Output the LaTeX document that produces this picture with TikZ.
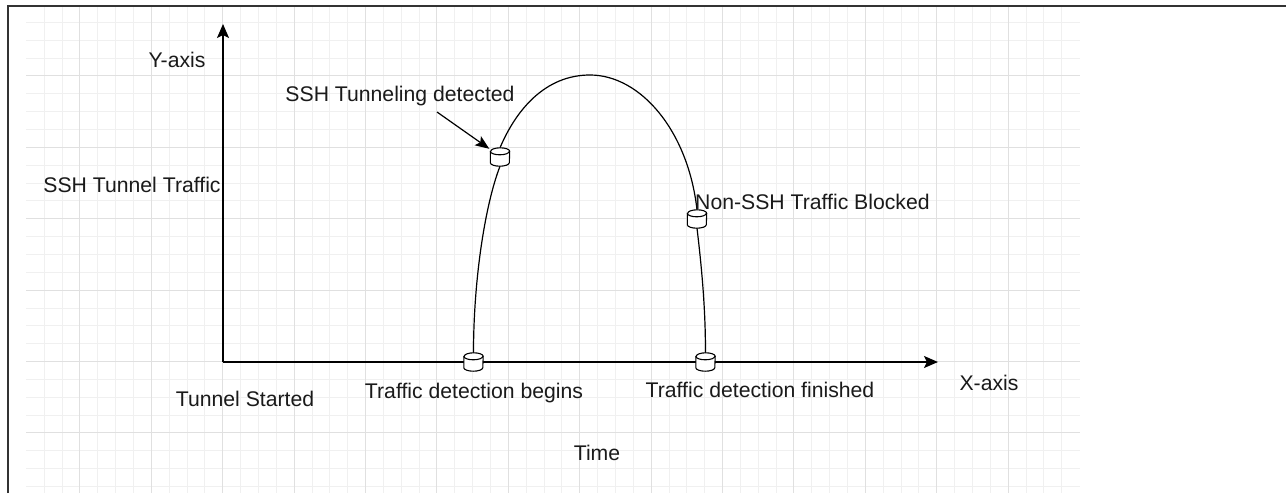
\documentclass[tikz,border=0pt]{standalone}
\usepackage{fontspec}
\setmainfont{Liberation Sans}
\usetikzlibrary{arrows.meta,calc}
\definecolor{gminor}{HTML}{F0F0F0}
\definecolor{gmajor}{HTML}{E0E0E0}
\definecolor{frame}{HTML}{333333}
\definecolor{txt}{HTML}{1A1A1A}
\tikzset{
  cyl/.style={rectangle, draw=none, minimum width=19, minimum height=18, inner sep=0pt},
  cylline/.style={line width=1.1pt, draw=black},
  lbl/.style={font=\fontsize{21.2}{25}\selectfont, text=txt, inner sep=0pt},
  axis/.style={line width=1.6pt, -{Stealth[length=14pt,width=12pt,inset=3pt]}},
  curve/.style={line width=1.2pt},
  pointer/.style={line width=1.2pt, -{Stealth[length=14pt,width=11pt,inset=3pt]}}
}
\begin{document}
\begin{tikzpicture}[x=1pt,y=-1pt]
\useasboundingbox (0,0) rectangle (1286,493);
\fill[white] (0,0) rectangle (1286,493);
% grid
\foreach \i in {1,...,58} \draw[gminor, line width=1pt] ({26.4+\i*17.85},6) -- ({26.4+\i*17.85},493);
\foreach \j in {0,...,26} \draw[gminor, line width=1pt] (26.4,{22.4+\j*17.85}) -- (1079.5,{22.4+\j*17.85});
\foreach \i in {3,7,...,55} \draw[gmajor, line width=1pt] ({26.4+\i*17.85},6) -- ({26.4+\i*17.85},493);
\foreach \j in {3,7,...,23} \draw[gmajor, line width=1pt] (26.4,{22.4+\j*17.85}) -- (1079.5,{22.4+\j*17.85});
% frame
\draw[frame, line width=2pt] (8,493) -- (8,6) -- (1286,6);
% axes
\coordinate (O) at (223,362);
\coordinate (ytip) at (223,24);
\coordinate (xtip) at (938,362);
\draw[axis] (O) -- (ytip);
\draw[axis] (O) -- (xtip);
% cylinders
\node[cyl] (c1) at (473.5,362) {};
\node[cyl] (c2) at (500,157) {};
\node[cyl] (c3) at (697,219) {};
\node[cyl] (c4) at (705.5,362) {};
\draw[line width=2.2pt] (O) -- (c1.west);
% curve
\coordinate (peak) at (590,75);
\draw[curve] (c1.north) .. controls (473.5,280) and (485,205) .. (c2.south);
\draw[curve] (c2.north) .. controls (516,110) and (545,75) .. (peak)
  .. controls (640,75) and (688,130) .. (c3.north);
\draw[curve] (c3.south) .. controls (702,270) and (705.5,310) .. (c4.north);
\foreach \c in {c1,c2,c3,c4}{
  \draw[cylline, fill=white] ($(\c.north west)+(0,3.5)$) -- ($(\c.south west)-(0,3.5)$)
    arc[start angle=180, end angle=0, x radius=9.5, y radius=3.5]
    -- ($(\c.north east)+(0,3.5)$)
    arc[start angle=0, end angle=-180, x radius=9.5, y radius=3.5] -- cycle;
  \draw[cylline] ($(\c.north west)+(0,3.5)$)
    arc[start angle=180, end angle=0, x radius=9.5, y radius=3.5];
}
% labels
\node[lbl] (ylab) at (177,60) {Y-axis};
\node[lbl] (sshdet) at (400,96) {SSH Tunneling detected};
\node[lbl] (ssht) at (132,185) {SSH Tunnel Traffic};
\node[lbl, anchor=west] (nonssh) at (695,202) {Non-SSH Traffic Blocked};
\node[lbl] (tstart) at (245,399) {Tunnel Started};
\node[lbl] (tbegin) at (474,393) {Traffic detection begins};
\node[lbl] (tfin) at (760,390) {Traffic detection finished};
\node[lbl] (xlab) at (989,383) {X-axis};
\node[lbl] (time) at (597,453) {Time};
\coordinate (a1) at (437,112);
\draw[pointer] (a1) -- ($(c2.north west)+(-1,1)$);
\end{tikzpicture}
\end{document}
